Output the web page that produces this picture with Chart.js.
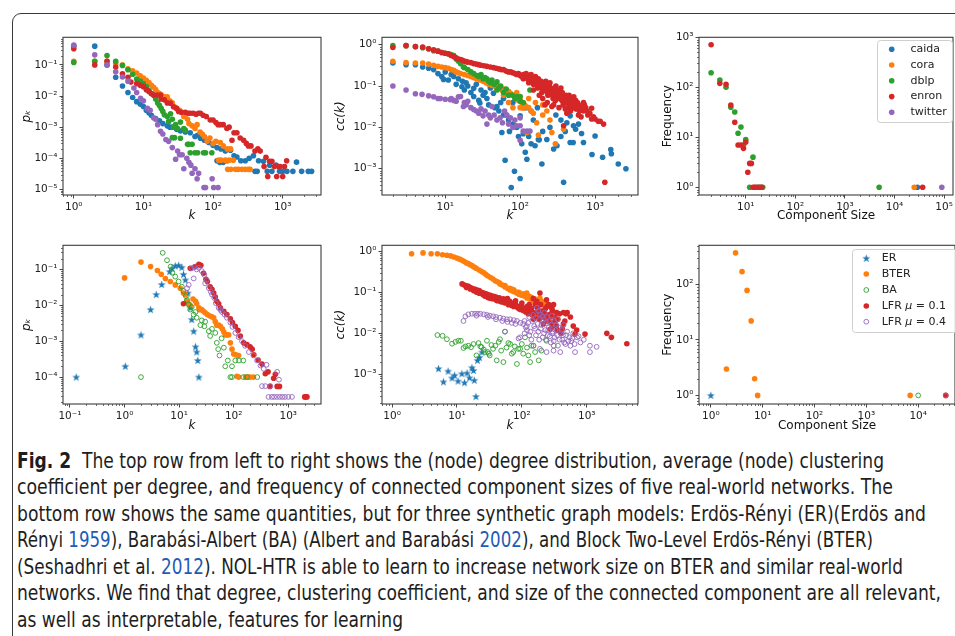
<!DOCTYPE html>
<html lang="en">
<head>
<meta charset="UTF-8" />
<title>Fig. 2</title>
<script src="https://cdn.jsdelivr.net/npm/chart.js"></script>
<style>
  html, body { margin: 0; padding: 0; background: #fff; }
  body { width: 955px; height: 636px; overflow: hidden; position: relative; }
  #frame { position: absolute; left: 12px; top: 13px; width: 980px; height: 660px;
           border: 1.4px solid #3a3a3a; border-radius: 9px; }
  canvas { position: absolute; }
  .ln { position: absolute; left: 17px; white-space: nowrap; transform-origin: 0 50%;
        font-family: "Liberation Sans Narrow", "DejaVu Sans Condensed", sans-serif;
        font-size: 21px; line-height: 26px; color: #1e1e1e; }
  .ln b { font-weight: bold; }
  .ln a { color: #1f5cb3; text-decoration: none; }
</style>
</head>
<body>
<div id="frame"></div>

<div class="ln" style="top:448px" data-w="867"><b>Fig. 2</b>&nbsp; The top row from left to right shows the (node) degree distribution, average (node) clustering</div>
<div class="ln" style="top:474px" data-w="876">coefficient per degree, and frequency of connected component sizes of five real-world networks. The</div>
<div class="ln" style="top:501px" data-w="909">bottom row shows the same quantities, but for three synthetic graph models: Erdös-Rényi (ER)(Erdös and</div>
<div class="ln" style="top:527px" data-w="856">Rényi <a>1959</a>), Barabási-Albert (BA) (Albert and Barabási <a>2002</a>), and Block Two-Level Erdös-Rényi (BTER)</div>
<div class="ln" style="top:554px" data-w="886">(Seshadhri et al. <a>2012</a>). NOL-HTR is able to learn to increase network size on BTER and similar real-world</div>
<div class="ln" style="top:580px" data-w="924">networks. We find that degree, clustering coefficient, and size of the connected component are all relevant,</div>
<div class="ln" style="top:607px" data-w="386">as well as interpretable, features for learning</div>

<script>
// ---- top row: real-world networks ----
const realNames = ['caida', 'cora', 'dblp', 'enron', 'twitter'];

const deg_caida = [[1,0.4],[2,0.4],[3,0.1],[4,0.04],[5,0.021],[6,0.013],[7,0.009],[8,0.0066],[9,0.0055],[10,0.0046],[11,0.0035],[12,0.0029],[13,0.0024],[15,0.0019],[17,0.0016],[19,0.0013],[22,0.0011],[24,0.001],[26,0.001],[30,0.00085],[34,0.00075],[40,0.0007],[47,0.00066],[55,0.0005],[60,0.00055],[66,0.00044],[75,0.00038],[87,0.00032],[100,0.00026],[114,0.00022],[130,0.0002],[150,0.00017],[178,0.00018],[114,0.000083],[125,0.000074],[140,0.000074],[160,0.000083],[200,0.00012],[220,0.00011],[250,0.000083],[290,0.000083],[330,0.0001],[380,0.00012],[400,0.000038],[430,0.000038],[450,0.000083],[530,0.00008],[600,0.000038],[650,0.00006],[700,0.000038],[800,0.00006],[900,0.000038],[1000,0.000038],[1150,0.000038],[1400,0.000038],[1580,0.000075],[1870,0.000038],[2330,0.000038],[2600,0.000038]];
const deg_cora = [[1,0.13],[2,0.13],[3,0.13],[4,0.11],[5,0.1],[6,0.075],[7,0.065],[8,0.055],[9,0.045],[10,0.038],[11,0.032],[12,0.027],[13,0.022],[14,0.019],[15,0.016],[16,0.013],[17,0.012],[18,0.011],[20,0.0095],[22,0.0095],[24,0.007],[26,0.006],[28,0.0045],[30,0.004],[33,0.0035],[36,0.003],[38,0.0022],[40,0.0025],[43,0.0018],[45,0.0013],[50,0.0011],[55,0.0009],[59,0.0012],[65,0.0007],[70,0.0006],[75,0.0005],[82,0.00035],[90,0.00045],[100,0.0003],[110,0.00035],[127,0.00032],[140,0.00025],[160,0.0002],[178,0.0002],[120,0.000087],[130,0.000087],[150,0.000087],[170,0.000087],[195,0.000087],[162,0.000044],[180,0.000044],[210,0.000044],[230,0.000044],[260,0.000044],[290,0.000044],[320,0.000044],[340,0.000044]];
const deg_dblp = [[1,0.12],[2,0.13],[3,0.2],[4,0.13],[5,0.095],[6,0.07],[7,0.05],[8,0.035],[9,0.03],[10,0.025],[11,0.02],[12,0.015],[13,0.012],[14,0.0107],[15,0.008],[16,0.006],[17,0.005],[18,0.004],[19,0.0032],[20,0.0025],[22,0.0022],[23,0.0015],[24.5,0.0027],[26,0.0018],[27,0.001],[29,0.0012],[31,0.0009],[34,0.00145],[26,0.00046],[28,0.00046],[34,0.00044],[38,0.0009],[40,0.0008],[43,0.00028],[45,0.00028],[47,0.00015],[50,0.00028],[55,0.00015],[60,0.00015],[73,0.00015],[78,0.00015],[96,0.00015]];
const deg_enron = [[1,0.33],[2,0.1],[3,0.13],[4,0.085],[5,0.052],[6,0.04],[6.6,0.028],[8,0.025],[9,0.022],[10,0.02],[11,0.016],[12,0.014],[13,0.012],[14,0.0107],[16,0.0107],[17.6,0.0107],[18,0.008],[20,0.0075],[22,0.006],[24.5,0.0059],[27,0.0045],[30,0.004],[32,0.0032],[35,0.003],[40,0.003],[44,0.0028],[47,0.0028],[52,0.0028],[57,0.0026],[62,0.0028],[66,0.0028],[72,0.0024],[80,0.0022],[91,0.0017],[100,0.0017],[110,0.0014],[118,0.0012],[127,0.0012],[140,0.0012],[158,0.0009],[170,0.001],[187,0.00038],[200,0.00066],[220,0.00066],[245,0.00045],[275,0.00038],[300,0.0003],[322,0.00025],[350,0.00025],[400,0.00017],[440,0.0002],[475,0.00017],[540,0.000054],[575,0.000107],[610,0.000026],[650,0.00008],[700,0.00008],[760,0.000054],[820,0.000026],[870,0.000054],[920,0.000054],[1000,0.000026],[1060,0.000054],[1140,0.000083]];
const deg_twitter = [[1,0.43],[2,0.21],[3,0.1],[4,0.06],[5,0.041],[6,0.03],[7.3,0.018],[8,0.013],[9.1,0.0085],[10,0.007],[11.4,0.004],[12.5,0.0035],[14,0.002],[15,0.0018],[16,0.0012],[17.6,0.00074],[19,0.0006],[21,0.0004],[23,0.00035],[26,0.00022],[29,0.000093],[31,0.00017],[33,0.00013],[36,0.00013],[38,0.000046],[42,0.0001],[45,0.000074],[48,0.00006],[50,0.000033],[55,0.000046],[59,0.000022],[62,0.000033],[74,0.0000115],[78,0.0000115],[97,0.000022],[102,0.0000115],[118,0.0000115]];

const cc_caida = [[2,0.36],[3,0.33],[4,0.33],[5,0.29],[6,0.27],[7,0.25],[8,0.2],[9,0.17],[9.5,0.145],[10,0.22],[11,0.14],[12,0.19],[13,0.17],[14,0.11],[15,0.15],[16.7,0.096],[17,0.13],[18,0.08],[19,0.12],[20,0.1],[22,0.07],[24,0.088],[24,0.056],[26,0.11],[28,0.045],[29,0.039],[30,0.08],[32,0.06],[34,0.07],[36,0.05],[38,0.035],[40,0.09],[44,0.067],[46,0.03],[49,0.032],[52,0.025],[55,0.04],[57,0.0075],[60,0.02],[60,0.05],[63,0.0016],[66,0.02],[70,0.015],[72,0.008],[76,0.00035],[80,0.012],[80,0.04],[84,0.00087],[90,0.01],[90,0.06],[95,0.006],[100,0.019],[100,0.00058],[105,0.004],[110,0.007],[117,0.0025],[120,0.03],[123,0.0017],[130,0.006],[140,0.004],[140,0.025],[150,0.015],[158,0.0036],[170,0.03],[175,0.0051],[180,0.005],[195,0.0013],[200,0.008],[227,0.0051],[250,0.01],[280,0.003],[300,0.02],[310,0.0036],[350,0.006],[350,0.015],[380,0.00047],[400,0.008],[420,0.013],[465,0.019],[465,0.0043],[510,0.0043],[515,0.011],[550,0.009],[600,0.012],[660,0.0071],[700,0.0043],[910,0.0022],[1000,0.0062],[1260,0.0019],[1620,0.0029],[1650,0.0023],[2040,0.0013],[2580,0.001]];
const cc_cora = [[2,0.4],[3,0.37],[4,0.36],[5,0.36],[6,0.34],[7,0.32],[8,0.3],[9,0.29],[10,0.28],[11,0.27],[12,0.25],[13,0.24],[14,0.22],[15,0.21],[16,0.2],[18,0.19],[20,0.18],[22,0.17],[24,0.16],[26,0.15],[29,0.14],[32,0.13],[35,0.12],[38,0.11],[42,0.105],[45,0.1],[49,0.096],[53,0.09],[57,0.08],[60,0.085],[60,0.06],[65,0.07],[70,0.075],[70,0.04],[74,0.067],[80,0.06],[80,0.03],[85,0.055],[90,0.05],[90,0.07],[95,0.045],[100,0.047],[100,0.03],[105,0.04],[110,0.029],[115,0.035],[120,0.032],[123,0.0075],[130,0.03],[130,0.05],[140,0.025],[150,0.022],[160,0.04],[166,0.013],[175,0.0065],[200,0.02],[200,0.035],[227,0.025],[250,0.015],[265,0.0075],[295,0.004],[380,0.009]];
const cc_dblp = [[2,0.95],[3,0.95],[4,0.9],[5,0.85],[6,0.8],[7,0.72],[8,0.7],[9,0.65],[10,0.62],[11,0.6],[12,0.58],[13,0.55],[14,0.45],[15,0.4],[16,0.35],[17.5,0.29],[18,0.28],[20,0.25],[22,0.22],[24,0.2],[26.5,0.18],[28,0.17],[30,0.19],[32,0.15],[34,0.16],[36,0.15],[38,0.13],[40,0.12],[42,0.14],[45,0.11],[49,0.126],[49,0.08],[52,0.09],[55,0.1],[60,0.07],[65,0.085],[70,0.06],[78,0.061],[85,0.05],[90,0.055],[100,0.056],[100,0.043],[110,0.04],[135,0.08]];
const cc_enron = [[2,0.86],[3,0.95],[4,0.9],[5,0.88],[6,0.8],[7,0.75],[8,0.7],[9,0.65],[10,0.62],[11,0.6],[12,0.55],[13,0.52],[14,0.48],[15,0.45],[16,0.44],[17,0.42],[18,0.4],[19,0.39],[20,0.38],[22,0.37],[24,0.35],[26,0.34],[28,0.33],[30,0.32],[33,0.31],[36,0.3],[40,0.29],[44,0.28],[48,0.27],[52,0.26],[56,0.25],[60,0.25],[65,0.23],[70,0.22],[75,0.22],[80,0.21],[85,0.2],[90,0.19],[95,0.2],[100,0.18],[105,0.17],[110,0.19],[110,0.15],[115,0.16],[120,0.17],[120,0.2],[125,0.15],[130,0.18],[130,0.12],[135,0.14],[140,0.16],[140,0.19],[145,0.13],[150,0.15],[150,0.11],[150,0.08],[155,0.12],[160,0.14],[160,0.17],[165,0.11],[170,0.13],[170,0.09],[175,0.15],[180,0.12],[180,0.06],[185,0.1],[190,0.09],[190,0.13],[195,0.07],[200,0.11],[200,0.05],[205,0.12],[210,0.08],[215,0.035],[215,0.09],[220,0.1],[220,0.13],[225,0.11],[230,0.07],[230,0.04],[235,0.06],[240,0.09],[245,0.1],[250,0.065],[250,0.12],[255,0.09],[260,0.08],[265,0.032],[265,0.07],[270,0.06],[275,0.05],[280,0.075],[280,0.035],[285,0.09],[290,0.055],[295,0.045],[300,0.07],[300,0.1],[310,0.08],[315,0.06],[320,0.05],[330,0.03],[335,0.075],[340,0.065],[345,0.05],[350,0.09],[360,0.045],[365,0.07],[375,0.035],[380,0.06],[380,0.011],[390,0.05],[400,0.04],[400,0.028],[410,0.06],[420,0.05],[420,0.022],[430,0.04],[440,0.03],[450,0.035],[450,0.06],[460,0.05],[470,0.025],[480,0.045],[490,0.04],[500,0.03],[500,0.05],[520,0.055],[530,0.04],[540,0.03],[550,0.045],[560,0.028],[580,0.04],[600,0.035],[600,0.02],[620,0.025],[630,0.032],[650,0.018],[680,0.03],[700,0.025],[700,0.04],[720,0.035],[750,0.03],[780,0.025],[800,0.02],[850,0.022],[900,0.029],[900,0.016],[950,0.018],[1000,0.016],[1100,0.014],[1170,0.014],[1300,0.012],[1350,0.00047]];
const cc_twitter = [[2,0.1],[3,0.08],[4,0.065],[4.9,0.063],[6,0.058],[7,0.055],[8,0.05],[8.6,0.05],[10,0.048],[11.6,0.047],[12,0.05],[13,0.045],[14,0.043],[15,0.055],[16,0.056],[17.5,0.032],[18,0.04],[19,0.035],[20,0.043],[22,0.03],[24,0.027],[26,0.025],[28,0.022],[30,0.028],[32,0.019],[34,0.025],[36,0.012],[38,0.02],[40,0.017],[42,0.032],[45,0.02],[49,0.015],[54,0.017],[58,0.013],[62,0.025],[66,0.02],[70,0.012],[74,0.017],[80,0.0099],[85,0.015],[90,0.011],[100,0.017],[100,0.011],[100,0.0049],[110,0.0081],[123,0.0081],[135,0.0081]];

const comp_caida = [[29000,1]];
const comp_cora = [[25000,1]];
const comp_dblp = [[2,195],[3,140],[4,100],[5,40],[6,32],[7,12],[8,16],[9,7],[10,9],[12,1],[14,4],[16,1],[18,1],[20,1],[22,1],[4900,1]];
const comp_enron = [[2,710],[3,120],[4,115],[5,44],[6,20],[7,7],[8,7],[9,6],[10,8],[11,2],[12,3],[13,3],[14,1],[15,1],[17,1],[19,1],[21,1],[37000,1]];
const comp_twitter = [[90000,1]];

// ---- bottom row: synthetic models ----
const synthNames = ['ER', 'BTER', 'BA', 'LFR μ = 0.1', 'LFR μ = 0.4'];

const deg_er = [[0.13,0.0001],[1.03,0.0002],[2,0.0015],[3,0.0076],[3.8,0.02],[4.8,0.038],[6.7,0.087],[7.4,0.107],[8.5,0.126],[9.8,0.13],[11.2,0.114],[12,0.073],[13,0.051],[14.5,0.022],[16,0.0085],[17,0.004],[18.5,0.0019],[20,0.0007],[21,0.0005],[22,0.00029],[23,0.0001]];
const deg_bter = [[1,0.058],[2,0.16],[3,0.12],[4,0.093],[4.7,0.073],[5.6,0.056],[6.9,0.046],[8.5,0.037],[10.5,0.03],[12,0.022],[13,0.02],[13.8,0.013],[15,0.011],[16,0.01],[18,0.015],[20,0.013],[21,0.011],[23,0.0085],[24,0.0075],[26,0.0076],[28,0.0068],[30,0.0062],[33,0.0055],[37,0.005],[40,0.0048],[43,0.0045],[46,0.0035],[49,0.0028],[53,0.0028],[57,0.0026],[62,0.0022],[66,0.0018],[70,0.0015],[75,0.0015],[81,0.0015],[87,0.0009],[93,0.0006],[100,0.00044],[110,0.00042],[123,0.0004],[115,0.000105],[123,0.0001],[165,0.0001],[185,0.0001],[200,0.0001],[230,0.0001]];
const deg_ba = [[2,0.0001],[5,0.29],[6,0.18],[7,0.12],[7.5,0.081],[8.5,0.063],[9.8,0.046],[11.2,0.033],[12,0.025],[13.3,0.018],[14,0.014],[15,0.0105],[16,0.0076],[17,0.009],[18.5,0.0055],[20,0.0065],[21,0.0045],[24.5,0.0028],[26,0.0038],[29,0.0026],[30,0.0035],[35,0.0019],[37,0.0014],[40,0.0022],[46,0.0017],[49,0.0009],[52,0.0006],[55,0.0004],[60,0.0012],[66,0.00066],[70,0.0002],[78,0.00029],[87,0.0001],[93,0.0002],[93,0.0001],[107,0.00029],[125,0.00029],[150,0.00029],[150,0.0001],[175,0.0001],[270,0.0001]];
const deg_lfr1 = [[12,0.011],[16,0.107],[20,0.12],[23,0.138],[25,0.13],[28,0.078],[31,0.053],[33,0.046],[37,0.033],[40,0.028],[43,0.022],[46,0.017],[49,0.013],[53,0.011],[57,0.0085],[66,0.0068],[75,0.0055],[87,0.0042],[95,0.0033],[107,0.0026],[120,0.002],[132,0.0014],[152,0.0009],[175,0.0008],[200,0.0007],[218,0.0006],[234,0.00042],[280,0.0003],[330,0.00023],[380,0.000124],[427,0.00014],[460,0.000055],[540,0.000093],[580,0.00012],[625,0.000055],[690,0.000055],[2000,0.000028],[2080,0.000028],[2200,0.000028]];
const deg_lfr4 = [[14,0.03],[15,0.037],[17,0.107],[18.5,0.056],[19,0.118],[21,0.1],[23,0.11],[26,0.09],[29,0.07],[30,0.041],[32,0.05],[35,0.03],[38,0.024],[40,0.02],[44,0.016],[47,0.0115],[53,0.0085],[57,0.0075],[61,0.0065],[68,0.0055],[75,0.0045],[87,0.0033],[95,0.0025],[107,0.0017],[123,0.0013],[142,0.001],[162,0.00074],[190,0.0005],[230,0.0004],[268,0.00029],[310,0.00021],[355,0.00017],[400,0.00022],[625,0.00014],[675,0.000085],[330,0.000056],[380,0.000056],[470,0.000056],[435,0.000028],[500,0.000028],[550,0.000028],[620,0.000028],[700,0.000028],[780,0.000028],[870,0.000028],[1000,0.000028],[1170,0.000028]];

const cc_er = [[5.2,0.00138],[6.2,0.00066],[7.3,0.0012],[8.4,0.00082],[9.2,0.00095],[10.4,0.00069],[11.9,0.00104],[13.1,0.00063],[14.3,0.00108],[15.6,0.00083],[17,0.00146],[18,0.00125],[18.5,0.00072],[19.6,0.00029],[20.7,0.0022],[22.3,0.0026],[24.3,0.0035]];
const cc_bter = [[2,0.87],[3,0.91],[4,0.87],[5,0.87],[6,0.82],[7,0.8],[8,0.77],[9,0.72],[10,0.68],[11,0.64],[12,0.6],[13,0.56],[14,0.52],[15,0.5],[16,0.47],[17,0.45],[18,0.42],[19,0.4],[20,0.38],[22,0.35],[24,0.32],[26,0.3],[28,0.27],[30,0.25],[33,0.23],[36,0.21],[39,0.19],[42,0.18],[45,0.17],[46,0.16],[50,0.15],[55,0.135],[55,0.145],[60,0.125],[65,0.115],[65,0.125],[70,0.11],[70,0.12],[75,0.105],[75,0.115],[80,0.1],[85,0.095],[85,0.1],[90,0.09],[90,0.1],[95,0.088],[100,0.085],[100,0.092],[110,0.08],[110,0.09],[119,0.096],[120,0.073],[120,0.085],[130,0.07],[130,0.08],[140,0.065],[140,0.075],[150,0.063],[150,0.07],[160,0.06],[160,0.068],[170,0.058],[180,0.055],[180,0.065],[190,0.072],[200,0.052],[200,0.06],[220,0.05],[230,0.055],[240,0.048],[250,0.05],[260,0.046],[280,0.045]];
const cc_ba = [[5,0.0091],[6,0.0087],[7,0.0072],[8.4,0.0056],[9.5,0.0062],[10.5,0.0066],[11.5,0.0066],[12.6,0.0044],[13.5,0.0048],[15,0.005],[16.5,0.0046],[18,0.0055],[20,0.0029],[21.5,0.0058],[23,0.0048],[24,0.0046],[26,0.004],[27,0.0035],[29,0.0066],[30,0.0035],[31,0.0032],[32,0.0029],[34,0.0052],[36,0.0042],[39,0.005],[41,0.0022],[44,0.0062],[46,0.0072],[48,0.0038],[52,0.002],[55,0.011],[58,0.0045],[62,0.0058],[66,0.0055],[70,0.0032],[74,0.0035],[78,0.0048],[84,0.0018],[88,0.0042],[94,0.0042],[100,0.0055],[105,0.0032],[112,0.008],[120,0.0045],[126,0.0029],[134,0.002],[140,0.005],[151,0.005],[160,0.0035],[182,0.0022],[200,0.0038],[240,0.0066],[310,0.005]];
const cc_lfr1 = [[12,0.16],[13,0.15],[14,0.144],[14,0.13],[15,0.14],[16,0.13],[16,0.12],[17,0.125],[18,0.12],[18,0.11],[19,0.118],[20,0.115],[20,0.1],[22,0.11],[22,0.095],[24,0.1],[25,0.088],[26,0.096],[27,0.08],[28,0.092],[30,0.088],[30,0.075],[32,0.072],[33,0.085],[35,0.07],[37,0.08],[40,0.077],[40,0.065],[42,0.062],[45,0.073],[47,0.06],[50,0.058],[52,0.069],[55,0.055],[58,0.064],[60,0.07],[62,0.05],[65,0.06],[68,0.052],[70,0.048],[74,0.055],[75,0.045],[80,0.052],[80,0.062],[85,0.043],[90,0.04],[94,0.046],[95,0.038],[100,0.044],[100,0.055],[105,0.036],[110,0.04],[115,0.033],[120,0.038],[120,0.045],[125,0.03],[130,0.05],[134,0.035],[140,0.04],[145,0.028],[150,0.032],[150,0.07],[151,0.022],[160,0.05],[160,0.026],[170,0.03],[170,0.06],[175,0.04],[180,0.036],[185,0.022],[190,0.028],[190,0.096],[195,0.05],[200,0.025],[205,0.035],[210,0.025],[215,0.017],[225,0.03],[230,0.04],[235,0.022],[240,0.066],[245,0.045],[250,0.02],[255,0.028],[260,0.05],[270,0.025],[273,0.0126],[280,0.03],[285,0.018],[290,0.04],[300,0.015],[300,0.035],[308,0.05],[320,0.025],[330,0.02],[340,0.015],[345,0.032],[350,0.012],[360,0.022],[380,0.03],[400,0.01],[420,0.013],[437,0.032],[437,0.017],[460,0.02],[480,0.03],[500,0.032],[560,0.025],[620,0.015],[660,0.0096],[700,0.012],[940,0.0096],[2040,0.01],[2400,0.008],[4150,0.0056]];
const cc_lfr4 = [[12.6,0.02],[13.5,0.026],[15,0.029],[17,0.03],[19,0.03],[20,0.027],[21,0.03],[23,0.03],[26,0.029],[29,0.028],[30,0.025],[32,0.027],[36,0.026],[40,0.025],[40,0.022],[46,0.024],[50,0.02],[52,0.023],[55,0.011],[59,0.022],[60,0.019],[66,0.022],[70,0.018],[75,0.021],[80,0.017],[84,0.02],[89,0.0075],[94,0.008],[95,0.018],[105,0.017],[110,0.01],[110,0.02],[115,0.014],[119,0.015],[120,0.012],[125,0.018],[130,0.009],[130,0.025],[135,0.011],[140,0.007],[145,0.02],[150,0.028],[151,0.005],[155,0.015],[160,0.013],[165,0.009],[165,0.024],[170,0.042],[175,0.017],[180,0.011],[180,0.035],[185,0.007],[190,0.0042],[190,0.029],[195,0.013],[200,0.016],[205,0.026],[210,0.008],[210,0.019],[215,0.022],[220,0.01],[225,0.032],[230,0.012],[235,0.007],[240,0.0035],[240,0.018],[245,0.025],[250,0.009],[255,0.012],[260,0.014],[265,0.02],[270,0.0085],[280,0.006],[285,0.016],[290,0.027],[295,0.01],[300,0.011],[308,0.0038],[310,0.0065],[315,0.02],[320,0.008],[330,0.012],[340,0.016],[350,0.009],[355,0.022],[360,0.005],[370,0.014],[380,0.007],[390,0.0035],[400,0.01],[410,0.012],[420,0.007],[430,0.009],[440,0.016],[450,0.006],[470,0.0055],[480,0.009],[500,0.011],[520,0.0066],[540,0.008],[560,0.005],[580,0.0065],[600,0.0075],[620,0.01],[650,0.0055],[660,0.0035],[710,0.008],[750,0.0085],[800,0.006],[900,0.007],[1120,0.005],[1120,0.0035],[1420,0.0047]];

const comp_er = [[1,1]];
const comp_bter = [[2,3],[3,370],[4,170],[5,78],[6,22],[7,2],[8,1],[7000,1]];
const comp_ba = [[10000,1]];
const comp_lfr1 = [[34000,1]];
const comp_lfr4 = [[34000,1]];

// ---- styling ----
const C = { blue: '#1f77b4', orange: '#ff7f0e', green: '#2ca02c', red: '#d62728', purple: '#9467bd' };
const realColors = [C.blue, C.orange, C.green, C.red, C.purple];

function starImage(color) {
  const c = document.createElement('canvas');
  c.width = 9; c.height = 9;
  const g = c.getContext('2d');
  g.fillStyle = color;
  g.beginPath();
  for (let i = 0; i < 10; i++) {
    const r = i % 2 ? 1.7 : 4.2, a = -Math.PI / 2 + i * Math.PI / 5;
    g.lineTo(4.5 + r * Math.cos(a), 4.8 + r * Math.sin(a));
  }
  g.closePath(); g.fill();
  return c;
}
const star = starImage(C.blue);

const toXY = arr => arr.map(([x, y]) => ({ x, y }));
function filled(label, color, arr) {
  return { label, data: toXY(arr), backgroundColor: color, borderColor: color, borderWidth: 0, pointRadius: 2.8, pointStyle: 'circle' };
}
function hollow(label, color, arr) {
  return { label, data: toXY(arr), backgroundColor: 'rgba(0,0,0,0)', borderColor: color, borderWidth: 0.9, pointRadius: 2.4, pointStyle: 'circle' };
}
function stars(label, arr) {
  return { label, data: toXY(arr), backgroundColor: C.blue, borderColor: C.blue, borderWidth: 0, pointRadius: 3, pointStyle: star };
}
function realSets(list) { return list.map((a, i) => filled(realNames[i], realColors[i], a)); }
function synthSets(list) {
  return [stars(synthNames[0], list[0]), filled(synthNames[1], C.orange, list[1]), hollow(synthNames[2], C.green, list[2]),
          filled(synthNames[3], C.red, list[3]), hollow(synthNames[4], C.purple, list[4])];
}

const SUP = { '-': '⁻', '0': '⁰', '1': '¹', '2': '²', '3': '³', '4': '⁴', '5': '⁵' };
const sup = e => '10' + String(e).split('').map(ch => SUP[ch]).join('');

// plot boxes in page pixels [left, top, right, bottom]
const panels = [
  { box: [63, 35, 321, 195], x: [-0.14, 3.55], y: [-5.18, -0.114], xt: [0, 1, 2, 3], yt: [-5, -4, -3, -2, -1],
    xTitle: 'k', yTitle: 'pₖ', yTitleX: 27, xTitleY: 216, math: true,
    sets: realSets([deg_caida, deg_cora, deg_dblp, deg_enron, deg_twitter]) },
  { box: [382, 35, 638, 195], x: [0.156, 3.573], y: [-3.636, 0.18], xt: [1, 2, 3], yt: [-3, -2, -1, 0],
    xTitle: 'k', yTitle: 'cc(k)', yTitleX: 341, xTitleY: 216, math: true,
    sets: realSets([cc_caida, cc_cora, cc_dblp, cc_enron, cc_twitter]) },
  { box: [699, 35, 953, 195], x: [0.057, 5.18], y: [-0.143, 3.0], xt: [1, 2, 3, 4, 5], yt: [0, 1, 2, 3],
    xTitle: 'Component Size', yTitle: 'Frequency', yTitleX: 668, xTitleY: 216, math: false,
    sets: realSets([comp_caida, comp_cora, comp_dblp, comp_enron, comp_twitter]),
    legend: { box: [877, 40, 952, 122], rows: [49.3, 65, 80.8, 96.6, 112.3], markX: 891.7, textX: 910.5 } },
  { box: [63, 243, 321, 404], x: [-1.128, 3.6], y: [-4.75, -0.328], xt: [-1, 0, 1, 2, 3], yt: [-4, -3, -2, -1],
    xTitle: 'k', yTitle: 'pₖ', yTitleX: 27, xTitleY: 426, math: true,
    sets: synthSets([deg_er, deg_bter, deg_ba, deg_lfr1, deg_lfr4]) },
  { box: [382, 243, 638, 404], x: [-0.154, 3.79], y: [-3.72, 0.144], xt: [0, 1, 2, 3], yt: [-3, -2, -1, 0],
    xTitle: 'k', yTitle: 'cc(k)', yTitleX: 341, xTitleY: 426, math: true,
    sets: synthSets([cc_er, cc_bter, cc_ba, cc_lfr1, cc_lfr4]) },
  { box: [699, 243, 955, 404], x: [-0.228, 4.71], y: [-0.129, 2.705], xt: [0, 1, 2, 3, 4], yt: [0, 1, 2],
    xTitle: 'Component Size', yTitle: 'Frequency', yTitleX: 668, xTitleY: 426, math: false,
    sets: synthSets([comp_er, comp_bter, comp_ba, comp_lfr1, comp_lfr4]),
    legend: { box: [852, 249, 956, 332], rows: [258.3, 274, 290, 306, 321.7], markX: 866.3, textX: 881.7 } }
];

// minor ticks, full spine box, and the in-axes legend
const axesExtras = {
  id: 'axesExtras',
  afterDraw(chart, args, o) {
    const { ctx, chartArea: a } = chart;
    ctx.save();
    ctx.strokeStyle = '#333'; ctx.lineWidth = 0.7;
    ['x', 'y'].forEach(id => {
      const s = chart.scales[id];
      const lo = Math.floor(Math.log10(s.min)), hi = Math.ceil(Math.log10(s.max));
      for (let e = lo; e <= hi; e++) {
        for (let m = 2; m <= 9; m++) {
          const v = m * Math.pow(10, e);
          if (v < s.min || v > s.max) continue;
          const p = Math.round(s.getPixelForValue(v)) + 0.5;
          ctx.beginPath();
          if (id === 'x') { ctx.moveTo(p, a.bottom); ctx.lineTo(p, a.bottom + 2); }
          else { ctx.moveTo(a.left, p); ctx.lineTo(a.left - 2, p); }
          ctx.stroke();
        }
      }
    });
    ctx.strokeStyle = '#3c3c3c'; ctx.lineWidth = 1.1;
    ctx.strokeRect(a.left, a.top, a.right - a.left, a.bottom - a.top);

    if (o.legend) {
      const L = o.legend;
      const [x0, y0, x1, y1] = L.box;
      ctx.beginPath();
      ctx.roundRect(x0 + 0.5, y0 + 0.5, x1 - x0, y1 - y0, 3);
      ctx.fillStyle = 'rgba(255,255,255,0.85)'; ctx.fill();
      ctx.strokeStyle = '#cfcfcf'; ctx.lineWidth = 1; ctx.stroke();
      chart.data.datasets.forEach((ds, i) => {
        const y = L.rows[i];
        if (typeof ds.pointStyle === 'object') {
          ctx.drawImage(ds.pointStyle, L.markX - ds.pointStyle.width / 2, y - ds.pointStyle.height / 2);
        } else {
          ctx.beginPath(); ctx.arc(L.markX, y, ds.pointRadius, 0, Math.PI * 2);
          if (ds.borderWidth > 0) { ctx.strokeStyle = ds.borderColor; ctx.lineWidth = ds.borderWidth; ctx.stroke(); }
          else { ctx.fillStyle = ds.backgroundColor; ctx.fill(); }
        }
        ctx.fillStyle = '#222'; ctx.textBaseline = 'middle';
        let x = L.textX;
        ds.label.split(/(μ)/).forEach(part => {
          if (!part) return;
          ctx.font = (part === 'μ' ? 'italic ' : '') + '11px "DejaVu Sans"';
          ctx.fillText(part, x, y);
          x += ctx.measureText(part).width;
        });
      });
    }
    ctx.restore();
  }
};

const tickFont = { family: 'DejaVu Sans', size: 10.5 };

panels.forEach((p, idx) => {
  const [l, t, r, b] = p.box;
  const lh = 14.4, padT = 6, padR = 6;
  const yW = Math.round(l - (p.yTitleX - lh / 2));
  const xH = Math.round(p.xTitleY + lh / 2 - b);
  const left = l - yW, top = t - padT;
  const cv = document.createElement('canvas');
  cv.width = yW + (r - l) + padR;
  cv.height = padT + (b - t) + xH;
  cv.style.left = left + 'px';
  cv.style.top = top + 'px';
  document.body.appendChild(cv);

  p.sets.forEach((ds, i) => { ds.order = -i; });
  const legend = p.legend ? {
    box: p.legend.box.map((v, i) => v - (i % 2 ? top : left)),
    rows: p.legend.rows.map(v => v - top),
    markX: p.legend.markX - left, textX: p.legend.textX - left
  } : null;

  const axis = (limits, ticks, title, fit) => ({
    type: 'logarithmic',
    min: Math.pow(10, limits[0]), max: Math.pow(10, limits[1]),
    afterBuildTicks: s => { s.ticks = ticks.map(e => ({ value: Math.pow(10, e) })); },
    afterFit: fit,
    ticks: { autoSkip: false, maxRotation: 0, font: tickFont, color: '#222', padding: 2,
             callback: v => sup(Math.round(Math.log10(v))) },
    grid: { display: true, drawOnChartArea: false, drawTicks: true, tickLength: 3.5, color: '#333', tickWidth: 0.9 },
    border: { display: false },
    title: { display: true, text: title, color: '#111', padding: 0,
             font: { family: 'DejaVu Sans', size: 12, style: p.math ? 'italic' : 'normal' } }
  });

  new Chart(cv, {
    type: 'scatter',
    data: { datasets: p.sets },
    options: {
      responsive: false, animation: false, devicePixelRatio: 1, events: [],
      layout: { padding: { top: padT, right: padR, left: 0, bottom: 0 } },
      scales: {
        x: axis(p.x, p.xt, p.xTitle, s => { s.height = xH; }),
        y: axis(p.y, p.yt, p.yTitle, s => { s.width = yW; })
      },
      plugins: { legend: { display: false }, tooltip: { enabled: false }, axesExtras: { legend } }
    },
    plugins: [axesExtras]
  });
});

// fit each caption line to its measured width in the figure
document.querySelectorAll('.ln').forEach(el => {
  el.style.display = 'inline-block';
  const w = el.getBoundingClientRect().width;
  el.style.transform = 'scaleX(' + (parseFloat(el.dataset.w) / w) + ')';
});
</script>
</body>
</html>
